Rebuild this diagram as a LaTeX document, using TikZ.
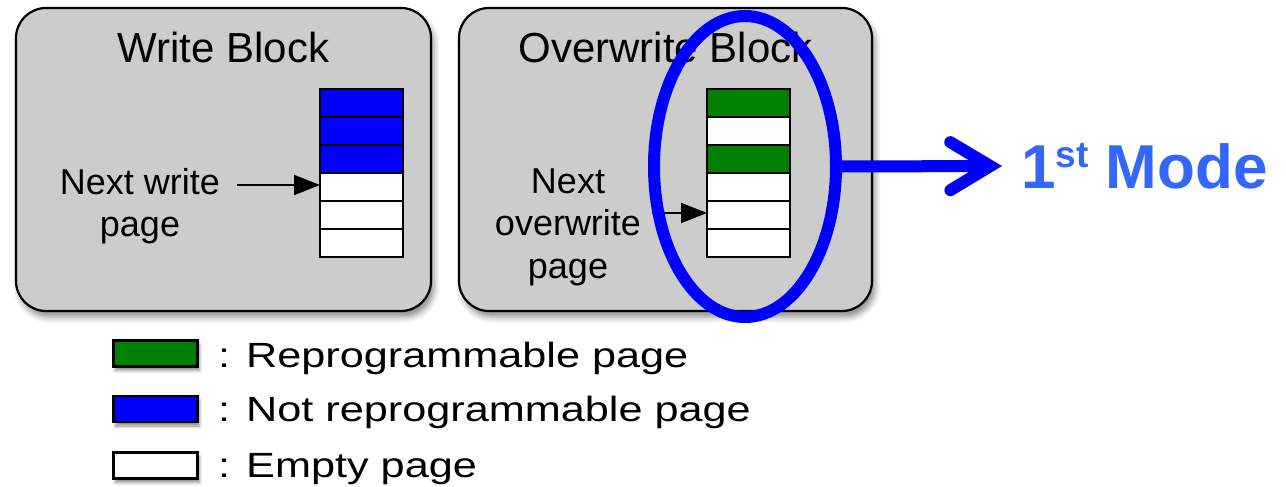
\documentclass[tikz,border=0pt]{standalone}
\usepackage{fontspec}
\setmainfont{Liberation Sans}
\newfontfamily\widefont{Liberation Sans}[FakeStretch=1.235]
\usetikzlibrary{arrows.meta,shapes.geometric,shadows.blur}
\definecolor{blockgray}{HTML}{CCCCCC}
\definecolor{pagegreen}{HTML}{007F00}
\definecolor{pageblue}{HTML}{0000FF}
\definecolor{ringblue}{HTML}{0000FF}
\definecolor{modeblue}{HTML}{3366FF}

\begin{document}
\begin{tikzpicture}[x=1pt,y=-1pt,
  block/.style={draw=black, line width=2.2pt, fill=blockgray, rounded corners=30pt,
    minimum height=303pt, inner sep=0pt,
    blur shadow={shadow xshift=3pt, shadow yshift=-6pt, shadow blur radius=6pt, shadow opacity=45}},
  page/.style={draw=black, line width=2pt, minimum width=83pt, minimum height=28pt,
    inner sep=0pt, outer sep=0pt},
  emptypage/.style={page, fill=white},
  greenpage/.style={page, fill=pagegreen},
  bluepage/.style={page, fill=pageblue},
  swatch/.style={draw=black, line width=2.4pt, minimum width=84pt, minimum height=26pt,
    inner sep=0pt,
    blur shadow={shadow xshift=2pt, shadow yshift=-4pt, shadow blur radius=3pt, shadow opacity=45}},
  title/.style={anchor=base, inner sep=0pt, font=\fontsize{42}{50}\selectfont},
  label/.style={inner sep=0pt, align=center, font=\fontsize{36}{42.5}\selectfont},
  legendtext/.style={anchor=base west, inner sep=0pt, font=\widefont\fontsize{35}{40}\selectfont},
  pointer/.style={draw=black, line width=2pt, -{Triangle[length=26pt,width=20pt]}},
]
\useasboundingbox (0,0) rectangle (1286,487);

% the two flash blocks
\node[block, minimum width=415pt] (wb) at (223.5,159.5) {};
\node[block, minimum width=413pt] (ob) at (665.5,159.5) {};
\node[title] (wtitle) at (223.5,63) {Write Block};
\node[title] (otitle) at (665.5,63) {Overwrite Block};

% page stack of the write block
\node[bluepage]  (w1) at (361.5,103) {};
\node[bluepage]  (w2) at (361.5,131) {};
\node[bluepage]  (w3) at (361.5,159) {};
\node[emptypage] (w4) at (361.5,187) {};
\node[emptypage] (w5) at (361.5,215) {};
\node[emptypage] (w6) at (361.5,243) {};

% page stack of the overwrite block
\node[greenpage] (o1) at (748.5,103) {};
\node[emptypage] (o2) at (748.5,131) {};
\node[greenpage] (o3) at (748.5,159) {};
\node[emptypage] (o4) at (748.5,187) {};
\node[emptypage] (o5) at (748.5,215) {};
\node[emptypage] (o6) at (748.5,243) {};

% next-page pointers
\node[label] (wlabel) at (140,206) {Next write\\page};
\coordinate (wfrom) at (237,185);
\draw[pointer] (wfrom) -- (wfrom -| w4.west);

\node[label] (olabel) at (568,227) {Next\\overwrite\\page};
\coordinate (ofrom) at (652,213);
\draw[pointer] (ofrom) -- (ofrom -| o5.west);

% highlighted page column and the mode it leads to
\node[ellipse, draw=ringblue, line width=12pt, minimum width=182pt, minimum height=301pt,
  inner sep=0pt] (ring) at (745,166.5) {};
\coordinate (tip) at (1002,166);
\draw[ringblue, line width=12pt,
  -{Straight Barb[length=40pt,width=48pt,line cap=round]}] (ring.east) -- (tip);
\node[anchor=base west, inner sep=0pt, text=modeblue,
  font=\bfseries\fontsize{62}{62}\selectfont] (mode) at (1021,188)
  {1\raisebox{21pt}{\fontsize{37}{37}\selectfont st} Mode};

% legend
\node[swatch, fill=pagegreen] (lg1) at (155.5,353.5) {};
\node[swatch, fill=pageblue]  (lg2) at (155.5,409) {};
\node[swatch, fill=white]     (lg3) at (155.5,465.5) {};
\node[legendtext] (lt1) at (218,367) {: Reprogrammable page};
\node[legendtext] (lt2) at (218,421) {: Not reprogrammable page};
\node[legendtext] (lt3) at (218,477) {: Empty page};
\end{tikzpicture}
\end{document}
